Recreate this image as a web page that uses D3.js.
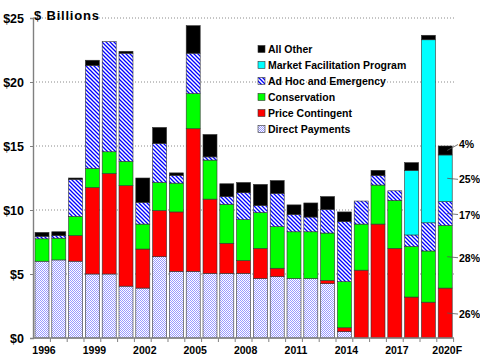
<!DOCTYPE html>
<html>
<head>
<meta charset="utf-8">
<script src="https://cdn.jsdelivr.net/npm/d3@7"></script>
<style>
  body { margin: 0; background: #fff; }
  svg { font-family: Arial, "Liberation Sans", sans-serif; }
</style>
</head>
<body>
<div id="chart"></div>
<script>
// farm support payments, $ billions
var years = ["1996","1997","1998","1999","2000","2001","2002","2003","2004","2005","2006","2007","2008",
  "2009","2010","2011","2012","2013","2014","2015","2016","2017","2018","2019","2020F"];
var directPayments = [6.0,6.1,6.0,5.0,5.0,4.05,3.9,6.35,5.2,5.2,5.05,5.05,5.05,4.65,4.8,4.65,4.65,4.25,0.5,0,0,0,0,0,0];
var priceContingent = [0,0,2.0,6.75,7.85,7.85,3.05,3.6,4.65,11.15,5.8,2.35,1.0,2.35,0.65,0,0,0.25,0.3,5.3,8.9,7.0,3.2,2.8,3.9];
var conservation = [1.75,1.7,1.5,1.5,1.7,1.9,1.95,2.2,2.25,2.75,3.05,3.05,3.2,2.8,3.25,3.65,3.65,3.7,3.6,3.6,3.05,3.75,3.95,4.0,4.9];
var adHoc = [0.2,0.2,2.9,8.05,8.6,8.45,1.7,3.05,0.6,3.15,0.25,0.6,2.1,0.55,2.6,1.35,1.15,1.85,4.7,1.8,0.75,0.75,0.9,2.2,1.85];
var marketFacilitation = [0,0,0,0,0,0,0,0,0,0,0,0,0,0,0,0,0,0,0,0,0,0,5.05,14.3,3.65];
var allOther = [0.3,0.3,0.1,0.4,0,0.15,1.9,1.25,0.2,2.15,1.75,1.0,0.8,1.65,1.0,0.75,1.1,1.0,0.75,0,0.4,0,0.6,0.35,0.7];
var yTicks = [0, 5, 10, 15, 20, 25];
var xLabels = ["1996","1999","2002","2005","2008","2011","2014","2017","2020F"];
// shares shown for the last bar, bottom segment to top
var shares2020 = ["", "26%", "28%", "17%", "25%", "4%"];

var keys = ["dp", "pc", "cons", "adhoc", "mfp", "other"];
var names = {
  dp: "Direct Payments", pc: "Price Contingent", cons: "Conservation",
  adhoc: "Ad Hoc and Emergency", mfp: "Market Facilitation Program", other: "All Other"
};

var table = years.map(function (y, i) {
  return { year: y, dp: directPayments[i], pc: priceContingent[i], cons: conservation[i],
    adhoc: adHoc[i], mfp: marketFacilitation[i], other: allOther[i] };
});

var width = 480, height = 360;
var svg = d3.select("#chart").append("svg").attr("width", width).attr("height", height);

// patterns
var defs = svg.append("defs");
var chk = defs.append("pattern").attr("id", "chk").attr("patternUnits", "userSpaceOnUse")
  .attr("width", 2).attr("height", 2);
chk.append("rect").attr("width", 2).attr("height", 2).attr("fill", "#ffffff");
chk.append("rect").attr("width", 1).attr("height", 1).attr("fill", "#9a9aff");
chk.append("rect").attr("x", 1).attr("y", 1).attr("width", 1).attr("height", 1).attr("fill", "#9a9aff");

var hatch = defs.append("pattern").attr("id", "hatch").attr("patternUnits", "userSpaceOnUse")
  .attr("width", 4).attr("height", 4);
hatch.append("rect").attr("width", 4).attr("height", 4).attr("fill", "#ffffff");
hatch.append("path").attr("d", "M-1,-1L5,5M3,-1L5,1M-1,3L1,5")
  .attr("stroke", "#0000ff").attr("stroke-width", 1.3);

var fills = { dp: "url(#chk)", pc: "#ff0000", cons: "#00ff00", adhoc: "url(#hatch)", mfp: "#00ffff", other: "#000000" };

var x = d3.scaleBand().domain(years).range([33.6, 453.6]).paddingInner(0.167).paddingOuter(0.083);
var y = d3.scaleLinear().domain([0, 25]).range([338, 18]);

// grid
svg.append("g").selectAll("line").data(yTicks.slice(1)).enter().append("line")
  .attr("x1", 33).attr("x2", 454)
  .attr("y1", function (d) { return y(d); }).attr("y2", function (d) { return y(d); })
  .attr("stroke", "#8a8a8a").attr("stroke-dasharray", "1,2");

var stack = d3.stack().keys(keys)(table);

var bars = svg.append("g");
stack.forEach(function (layer) {
  bars.append("g").selectAll("rect").data(layer.filter(function (d) { return d[1] - d[0] > 0; }))
    .enter().append("rect")
    .attr("x", function (d) { return x(d.data.year); })
    .attr("width", x.bandwidth())
    .attr("y", function (d) { return y(d[1]); })
    .attr("height", function (d) { return y(d[0]) - y(d[1]); })
    .attr("fill", fills[layer.key])
    .attr("stroke", "#333").attr("stroke-width", 0.6);
});
// outline of each stack
var top = stack[stack.length - 1];
bars.append("g").selectAll("rect").data(top).enter().append("rect")
  .attr("x", function (d) { return x(d.data.year); })
  .attr("width", x.bandwidth())
  .attr("y", function (d) { return y(d[1]); })
  .attr("height", function (d) { return y(0) - y(d[1]); })
  .attr("fill", "none").attr("stroke", "#7a7a7a").attr("stroke-width", 1.4);

// y axis
var yAxis = svg.append("g").attr("transform", "translate(33,0)")
  .call(d3.axisLeft(y).tickValues(yTicks).tickSize(3).tickPadding(6)
    .tickFormat(function (d) { return "$" + d; }));
yAxis.select(".domain").attr("stroke", "#808080").attr("stroke-width", 1.4);
yAxis.selectAll(".tick line").attr("stroke", "#808080");
yAxis.selectAll("text").attr("font-size", 12.5).attr("font-weight", "bold")
  .attr("font-family", "Arial, 'Liberation Sans', sans-serif").attr("fill", "#000");

// x axis
var step = x.step();
var xg = svg.append("g");
xg.append("line").attr("x1", 33).attr("x2", 454).attr("y1", y(0)).attr("y2", y(0))
  .attr("stroke", "#808080").attr("stroke-width", 1.4);
xg.selectAll(".tk").data(years).enter().append("line")
  .attr("x1", function (d) { return x(d) + x.bandwidth() + (step - x.bandwidth()) / 2; })
  .attr("x2", function (d) { return x(d) + x.bandwidth() + (step - x.bandwidth()) / 2; })
  .attr("y1", y(0)).attr("y2", y(0) + 4).attr("stroke", "#808080");
xg.selectAll("text").data(xLabels).enter().append("text")
  .attr("x", function (d) { return x(d) + x.bandwidth() / 2 + 2; })
  .attr("y", 354)
  .attr("text-anchor", "middle").attr("font-size", 10.5).attr("font-weight", "bold")
  .text(function (d) { return d; });

// title
svg.append("text").attr("x", 34).attr("y", 20).attr("font-size", 13).attr("font-weight", "bold")
  .attr("letter-spacing", 0.8).text("$ Billions");

// legend
var legendKeys = ["other", "mfp", "adhoc", "cons", "pc", "dp"];
var lg = svg.append("g").attr("transform", "translate(258,49)");
legendKeys.forEach(function (k, i) {
  var row = lg.append("g").attr("transform", "translate(0," + (i * 16) + ")");
  row.append("rect").attr("x", 0).attr("y", -3.5).attr("width", 7).attr("height", 7)
    .attr("fill", fills[k]).attr("stroke", "#333").attr("stroke-width", 0.6);
  row.append("text").attr("x", 10).attr("y", 4).attr("font-size", 10.5).attr("font-weight", "bold")
    .text(names[k]);
});

// share labels on 2020F
var last = years.length - 1;
var lab = svg.append("g");
stack.forEach(function (layer, li) {
  var txt = shares2020[li];
  if (!txt) return;
  var d = layer[last];
  var mid = y((d[0] + d[1]) / 2);
  var ty = li === stack.length - 1 ? mid - 6 : mid + 1;
  lab.append("line").attr("x1", x(years[last]) + x.bandwidth() / 2 + 2).attr("y1", mid)
    .attr("x2", 458).attr("y2", ty).attr("stroke", "#555").attr("stroke-width", 0.8);
  lab.append("text").attr("x", 459).attr("y", ty + 4).attr("font-size", 10.5).attr("font-weight", "bold")
    .text(txt);
});
</script>
</body>
</html>
